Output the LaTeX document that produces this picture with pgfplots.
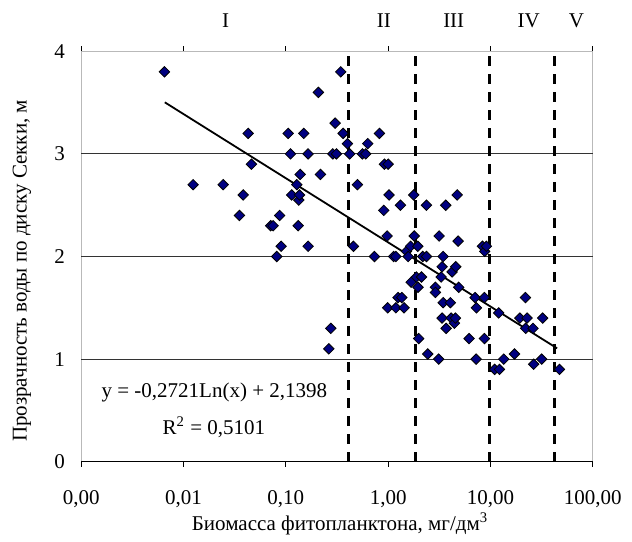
\documentclass[border=0pt]{standalone}
\usepackage{fontspec}
\setmainfont{Liberation Serif}
\usepackage{pgfplots}
\pgfplotsset{compat=1.18}
\definecolor{ptfill}{RGB}{0,0,128}

\begin{document}
\fontsize{10.5}{12}\selectfont
\begin{tikzpicture}
\begin{axis}[
    scale only axis,
    width=255.7pt, height=205.2pt,
    xmode=log, log basis x=10,
    xmin=0.001, xmax=100,
    ymin=0, ymax=4,
    xtick={0.001,0.01,0.1,1,10,100},
    xticklabels={{0,00},{0,01},{0,10},{1,00},{10,00},{100,00}},
    xminorticks=false,
    ytick={0,1,2,3,4},
    extra y ticks={1,2,3},
    extra y tick labels={},
    extra y tick style={grid=major, major tick length=0pt},
    grid style={black!80, line width=0.5pt},
    tick align=outside,
    major tick length=2.5pt,
    xtick style={black, line width=0.5pt},
    ytick style={draw=none},
    axis line style={gray!55, line width=0.6pt},
    xticklabel style={yshift=-8pt},
    yticklabel style={xshift=-2pt},
    /pgf/number format/assume math mode=true,
    xlabel={Биомасса фитопланктона, мг/дм\textsuperscript{3}},
    xlabel style={at={(rel axis cs:0.506,0)}, anchor=center, yshift=-31pt},
    ylabel={Прозрачность воды по диску Секки, м},
    ylabel style={at={(rel axis cs:0,0.465)}, anchor=center, yshift=29.7pt},
    clip=false,
]

% zone borders
\addplot[black, line width=1.5pt, dash pattern=on 5pt off 4pt] coordinates {(0.41,0) (0.41,4)};
\addplot[black, line width=1.5pt, dash pattern=on 5pt off 4pt] coordinates {(1.87,0) (1.87,4)};
\addplot[black, line width=1.5pt, dash pattern=on 5pt off 4pt] coordinates {(9.8,0) (9.8,4)};
\addplot[black, line width=1.5pt, dash pattern=on 5pt off 4pt] coordinates {(42,0) (42,4)};

% measurements
\addplot[only marks, mark=square*, mark size=1.85pt,
    mark options={rotate=45, fill=ptfill, draw=black, line width=0.4pt}]
coordinates {
(0.0065,3.80) (0.0124,2.70) (0.0244,2.70) (0.0352,2.40) (0.0383,2.60)
(0.0428,3.20) (0.0461,2.90) (0.0711,2.30) (0.0751,2.30) (0.0815,2.00)
(0.087,2.40) (0.090,2.10) (0.1054,3.20) (0.111,3.00) (0.114,2.60)
(0.128,2.70) (0.132,2.30) (0.134,2.55) (0.136,2.60) (0.138,2.80)
(0.1497,3.20) (0.165,3.00) (0.165,2.10) (0.208,3.60) (0.218,2.80)
(0.263,1.10) (0.275,1.30) (0.288,3.00) (0.303,3.30) (0.312,3.00)
(0.344,3.80) (0.363,3.20) (0.40,3.10) (0.421,3.00) (0.458,2.10)
(0.501,2.70) (0.561,3.00) (0.604,3.00) (0.632,3.10) (0.735,2.00)
(0.822,3.20) (0.906,2.45) (0.92,2.90) (0.978,2.20) (0.99,1.50)
(1.0,2.90) (1.02,2.60) (1.13,2.00) (1.19,2.00) (1.19,1.50)
(1.25,1.60) (1.32,2.50) (1.36,1.60) (1.43,1.50) (1.51,2.05)
(1.57,2.00) (1.66,2.10) (1.68,1.75) (1.78,2.60) (1.80,2.20)
(1.89,1.80) (1.95,2.10) (1.96,1.70) (1.99,1.20) (2.12,1.80)
(2.18,2.00) (2.37,2.50) (2.37,2.00) (2.44,1.05) (2.90,1.70)
(2.90,1.65) (3.12,1.00) (3.15,2.20) (3.30,1.80) (3.37,1.90)
(3.37,1.40) (3.45,2.00) (3.45,1.55) (3.66,2.50) (3.69,1.30)
(4.06,1.55) (4.13,1.40) (4.22,1.85) (4.45,1.35) (4.55,1.40)
(4.58,1.90) (4.73,2.60) (4.83,2.15) (4.90,1.70) (6.19,1.20)
(7.08,1.60) (7.25,1.00) (7.30,1.50) (8.36,2.10) (8.74,1.60)
(8.74,1.20) (8.79,2.05) (9.14,2.10) (11.0,0.90) (12.05,1.45)
(12.25,0.90) (13.5,1.00) (17.2,1.05) (19.4,1.40) (22.0,1.60)
(22.1,1.30) (22.8,1.40) (26.1,1.30) (26.5,0.95) (31.7,1.00)
(32.4,1.40) (47.3,0.90)
};

% logarithmic trend line (straight on log x)
\addplot[black, line width=0.9pt] coordinates {(0.00655,3.503) (44.9,1.105)};

\node at (axis cs:0.0200,0.679) {y = -0,2721Ln(x) + 2,1398};
\node at (axis cs:0.0198,0.336) {R\textsuperscript{2} = 0,5101};

\node at (axis cs:0.0257,4.298) {I};
\node at (axis cs:0.906,4.298) {II};
\node at (axis cs:4.38,4.298) {III};
\node at (axis cs:23.7,4.298) {IV};
\node at (axis cs:69.3,4.298) {V};

\draw[black, line width=0.6pt] (rel axis cs:0,0) -- (rel axis cs:1,0);
\end{axis}
\path (-40.65pt,-38.15pt) rectangle (275.35pt,230.85pt);
\end{tikzpicture}
\end{document}
